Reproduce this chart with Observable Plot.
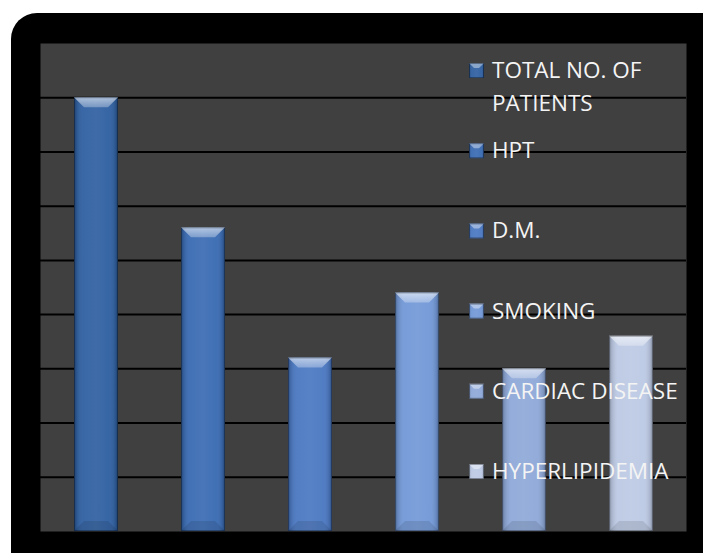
<!DOCTYPE html>
<html>
<head>
<meta charset="utf-8">
<script src="https://cdn.jsdelivr.net/npm/d3@7"></script>
<script src="https://cdn.jsdelivr.net/npm/@observablehq/plot@0.6"></script>
<style>
  html, body { margin: 0; padding: 0; background: #fff; width: 703px; height: 553px; overflow: hidden; }
  #frame { position: absolute; left: 11px; top: 13px; width: 740px; height: 600px; background: #000; border-radius: 26px; }
  #chart { position: absolute; left: 0; top: 0; }
</style>
</head>
<body>
<div id="frame"></div>
<div id="chart"></div>
<script>
// Risk factors among the patient group
const categories = ["TOTAL NO. OF PATIENTS", "HPT", "D.M.", "SMOKING", "CARDIAC DISEASE", "HYPERLIPIDEMIA"];
const patients = [40, 28, 16, 22, 15, 18];
const barColors = ["#3161a2", "#3b6cb3", "#4c79c2", "#7399d7", "#8fa9d8", "#bdcae4"];
const gridTicks = [5, 10, 15, 20, 25, 30, 35, 40];

const data = categories.map((name, i) => ({name, value: patients[i], color: barColors[i]}));

// split long legend labels over two lines
function wrap(label, max = 15) {
  if (label.length <= max) return [label];
  const words = label.split(" ");
  const lines = [""];
  for (const w of words) {
    const cur = lines[lines.length - 1];
    if (cur && (cur + " " + w).length > 12) lines.push(w);
    else lines[lines.length - 1] = cur ? cur + " " + w : w;
  }
  return lines;
}

// gradients used to round off the sides and light the top caps of the bars
function defs() {
  const d = d3.create("svg:defs");
  const side = d.append("linearGradient").attr("id", "bar-side").attr("x1", 0).attr("x2", 1).attr("y1", 0).attr("y2", 0);
  [[0, "#000", 0.35], [0.06, "#000", 0.12], [0.2, "#fff", 0.04], [0.5, "#fff", 0.07], [0.8, "#fff", 0.03], [0.94, "#000", 0.12], [1, "#000", 0.35]]
    .forEach(([o, c, a]) => side.append("stop").attr("offset", o).attr("stop-color", c).attr("stop-opacity", a));
  const cap = d.append("linearGradient").attr("id", "bar-cap").attr("x1", 0).attr("x2", 0).attr("y1", 0).attr("y2", 1);
  [[0, "#fff", 0.6], [1, "#fff", 0.3]]
    .forEach(([o, c, a]) => cap.append("stop").attr("offset", o).attr("stop-color", c).attr("stop-opacity", a));
  return d.node();
}

// bevelled top and bottom caps of the bars
function bevels(index, scales) {
  const {x, y} = scales;
  const bw = x.bandwidth();
  const b = 10;
  const g = d3.create("svg:g");
  data.forEach(d => {
    const x0 = x(d.name), x1 = x0 + bw, yt = y(d.value), yb = y(0);
    g.append("polygon")
      .attr("points", [[x0, yt], [x1, yt], [x1 - b, yt + b], [x0 + b, yt + b]].join(" "))
      .attr("fill", "url(#bar-cap)");
    g.append("polygon")
      .attr("points", [[x0, yb], [x1, yb], [x1 - b, yb - b], [x0 + b, yb - b]].join(" "))
      .attr("fill", "#000").attr("fill-opacity", 0.1);
    g.append("rect")
      .attr("x", x0 + 0.5).attr("y", yt + 0.5).attr("width", bw - 1).attr("height", yb - yt - 1)
      .attr("fill", "none").attr("stroke", "#000").attr("stroke-opacity", 0.3);
  });
  return g.node();
}

// legend drawn over the plot area on the right
function legend() {
  const g = d3.create("svg:g")
    .attr("font-family", "'Open Sans', sans-serif")
    .attr("font-size", 22.5)
    .attr("text-anchor", "start")
    .attr("fill", "#f4f4f4");
  categories.forEach((name, i) => {
    const by = 78 + i * 80.2;
    const m = 15, mx = 469, my = by - m;
    g.append("rect").attr("x", mx).attr("y", my).attr("width", m).attr("height", m).attr("fill", barColors[i]);
    g.append("rect").attr("x", mx).attr("y", my).attr("width", m).attr("height", m).attr("fill", "url(#bar-side)");
    g.append("polygon")
      .attr("points", [[mx, my], [mx + m, my], [mx + m - 5, my + 5], [mx + 5, my + 5]].join(" "))
      .attr("fill", "#fff").attr("fill-opacity", 0.4);
    g.append("rect").attr("x", mx + 0.5).attr("y", my + 0.5).attr("width", m - 1).attr("height", m - 1)
      .attr("fill", "none").attr("stroke", "#000").attr("stroke-opacity", 0.35);
    wrap(name).forEach((t, j) => {
      g.append("text").attr("x", 492).attr("y", by + j * 33).text(t);
    });
  });
  return g.node();
}

const chart = Plot.plot({
  width: 703,
  height: 553,
  marginLeft: 40,
  marginRight: 17,
  marginTop: 43,
  marginBottom: 22,
  style: {background: "transparent", overflow: "visible"},
  x: {domain: categories, paddingInner: 0.59, paddingOuter: 0.295, axis: null},
  y: {domain: [0, 45], axis: null},
  color: {type: "identity"},
  marks: [
    defs,
    Plot.frame({fill: "#404040", stroke: null}),
    Plot.ruleY(gridTicks, {stroke: "#000", strokeWidth: 2}),
    Plot.barY(data, {x: "name", y: "value", fill: "color"}),
    Plot.barY(data, {x: "name", y: "value", fill: "url(#bar-side)"}),
    bevels,
    legend
  ]
});

document.getElementById("chart").appendChild(chart);
</script>
</body>
</html>
